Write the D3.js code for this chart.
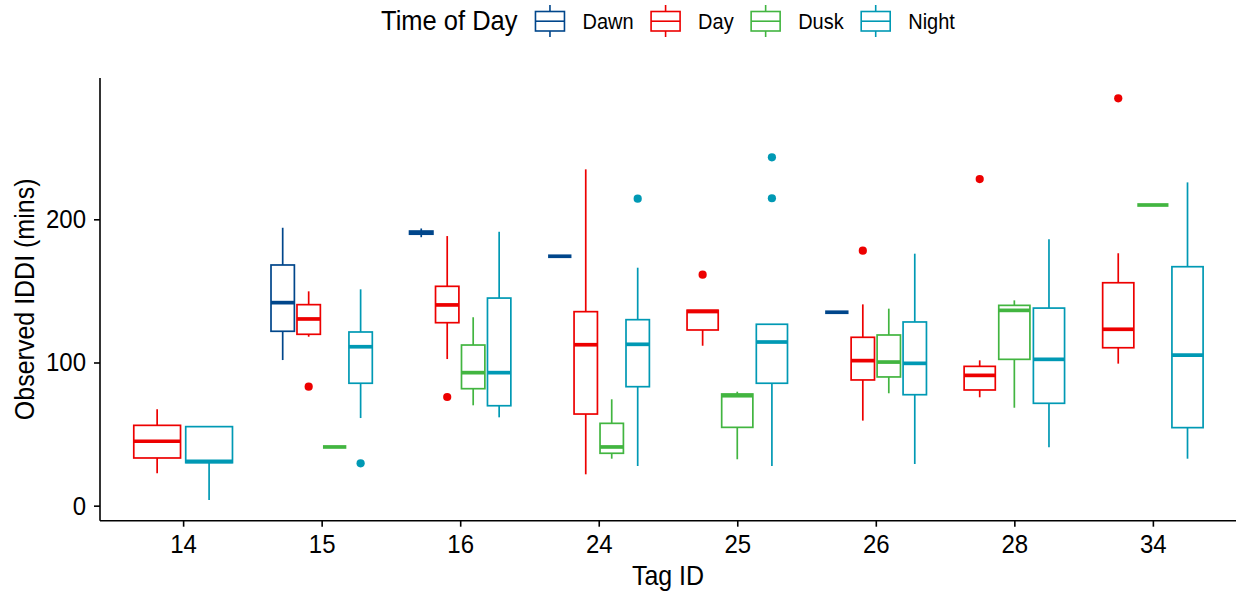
<!DOCTYPE html>
<meta charset="utf-8">
<style>
body { margin: 0; background: #fff; }
text { font-family: "Liberation Sans", Arial, sans-serif; fill: #000; }
</style>
<svg width="1238" height="594"></svg>
<script src="https://cdn.jsdelivr.net/npm/d3@7"></script>
<script>

// tag ids on the x axis and the four times of day
var tags = ["14", "15", "16", "24", "25", "26", "28", "34"];
var times = ["Dawn", "Day", "Dusk", "Night"];
var yTicks = [0, 100, 200];

// box stats: tag, time, lower whisker, q1, median, q3, upper whisker
var boxes = [
  ["14", "Day",   22.6, 33.3, 45.0, 56.1, 67.3],
  ["14", "Night",  4.0, 30.0, 31.0, 55.2, 55.2],
  ["15", "Dawn", 101.7, 121.8, 141.8, 168.1, 194.1],
  ["15", "Day",  118.0, 119.7, 130.4, 140.4, 149.7],
  ["15", "Dusk",  41.0, 41.0, 41.0, 41.0, 41.0],
  ["15", "Night", 61.2, 85.5, 111.0, 121.3, 151.1],
  ["16", "Dawn", 187.5, 189.6, 190.6, 191.8, 193.6],
  ["16", "Day",  102.4, 127.8, 140.2, 153.2, 188.3],
  ["16", "Dusk",  70.1, 81.7, 92.9, 112.2, 131.6],
  ["16", "Night", 61.7, 69.8, 92.9, 145.0, 191.3],
  ["24", "Dawn", 174.2, 174.2, 174.2, 174.2, 174.2],
  ["24", "Day",   21.9, 64.0, 112.4, 135.5, 234.9],
  ["24", "Dusk",  32.8, 36.6, 41.0, 57.5, 74.3],
  ["24", "Night", 27.7, 83.1, 112.7, 129.9, 166.2],
  ["25", "Day",  111.7, 122.7, 135.6, 136.5, 136.5],
  ["25", "Dusk",  32.4, 54.7, 76.8, 78.0, 79.6],
  ["25", "Night", 27.7, 85.5, 114.3, 126.7, 126.7],
  ["26", "Dawn", 135.1, 135.1, 135.1, 135.1, 135.1],
  ["26", "Day",   59.4, 87.8, 101.3, 117.6, 140.6],
  ["26", "Dusk",  78.5, 89.9, 100.3, 119.2, 137.6],
  ["26", "Night", 29.1, 77.5, 99.4, 128.3, 176.0],
  ["28", "Day",   75.7, 80.8, 91.0, 97.3, 101.5],
  ["28", "Dusk",  68.4, 102.2, 136.4, 139.9, 143.4],
  ["28", "Night", 40.8, 71.5, 102.2, 138.0, 186.0],
  ["34", "Day",   99.2, 110.3, 123.2, 155.7, 176.3],
  ["34", "Dusk", 210.0, 210.0, 210.0, 210.0, 210.0],
  ["34", "Night", 32.8, 54.5, 105.2, 166.9, 225.8]
];

// outlying points: tag, time, value
var outliers = [
  ["15", "Day", 83.1],
  ["15", "Night", 29.6],
  ["16", "Day", 75.9],
  ["24", "Night", 214.4],
  ["25", "Day", 161.3],
  ["25", "Night", 243.3],
  ["25", "Night", 214.7],
  ["26", "Day", 178.1],
  ["28", "Day", 228.1],
  ["34", "Day", 284.5]
];

var svg = d3.select("svg");

// the source fonts are drawn a little taller than Liberation Sans
var stretch = "scale(1,1.1)";

var color = d3.scaleOrdinal()
    .domain(times)
    .range(["#00468B", "#ED0000", "#42B540", "#0099B4"]);

var x = d3.scalePoint()
    .domain(tags)
    .range([100, 1236])
    .padding(0.6);

var y = d3.scaleLinear()
    .domain([-10.5, 298.7])
    .range([520.7, 78]);

var step = x.step();

// dodge like ggplot: 0.75 of a step split between the groups present, 10% padding
function dodge(tag, time) {
  var present = times.filter(function(t) {
    return boxes.some(function(b) { return b[0] == tag && b[1] == t; });
  });
  var slot = 0.75 * step / present.length;
  var i = present.indexOf(time);
  return { cx: x(tag) - 0.375 * step + slot * (i + 0.5), w: slot * 0.9 };
}

// axes
var yAxis = svg.append("g")
    .attr("transform", "translate(100,0)")
    .call(d3.axisLeft(y).tickValues(yTicks).tickSize(6).tickPadding(8));
var xAxis = svg.append("g")
    .attr("transform", "translate(0,520.7)")
    .call(d3.axisBottom(x).tickSize(6).tickPadding(6.3));

yAxis.select(".domain").attr("d", "M0," + y.range()[1] + "V" + y.range()[0]);
xAxis.select(".domain").attr("d", "M" + x.range()[0] + ",0H" + x.range()[1]);
svg.selectAll(".domain, .tick line").attr("stroke", "#000").attr("stroke-width", 1.6);
svg.selectAll(".tick text").attr("font-size", 24).attr("fill", "#000")
    .attr("font-family", "Liberation Sans, Arial, sans-serif")
    .attr("transform", stretch);

// boxes
var g = svg.append("g");
g.selectAll("g.box")
  .data(boxes)
  .enter().append("g")
    .attr("class", "box")
    .each(function(d) {
      var p = dodge(d[0], d[1]);
      var c = color(d[1]);
      var sel = d3.select(this);
      sel.append("line")
          .attr("x1", p.cx).attr("x2", p.cx)
          .attr("y1", y(d[6])).attr("y2", y(d[5]))
          .attr("stroke", c).attr("stroke-width", 1.7);
      sel.append("line")
          .attr("x1", p.cx).attr("x2", p.cx)
          .attr("y1", y(d[3])).attr("y2", y(d[2]))
          .attr("stroke", c).attr("stroke-width", 1.7);
      sel.append("rect")
          .attr("x", p.cx - p.w / 2)
          .attr("y", y(d[5]))
          .attr("width", p.w)
          .attr("height", y(d[3]) - y(d[5]))
          .attr("fill", "#fff")
          .attr("stroke", c).attr("stroke-width", 1.7);
      sel.append("line")
          .attr("x1", p.cx - p.w / 2).attr("x2", p.cx + p.w / 2)
          .attr("y1", y(d[4])).attr("y2", y(d[4]))
          .attr("stroke", c).attr("stroke-width", 3.7);
    });

g.selectAll("circle")
  .data(outliers)
  .enter().append("circle")
    .attr("cx", function(d) { return dodge(d[0], d[1]).cx; })
    .attr("cy", function(d) { return y(d[2]); })
    .attr("r", 4.1)
    .attr("fill", function(d) { return color(d[1]); });

// axis titles
svg.append("text")
    .attr("transform", "translate(" + (x.range()[0] + x.range()[1]) / 2 + ",585) " + stretch)
    .attr("text-anchor", "middle")
    .attr("font-size", 25)
    .text("Tag ID");

svg.append("text")
    .attr("transform", "translate(34," + (y.range()[0] + y.range()[1]) / 2 + ") rotate(-90) " + stretch)
    .attr("text-anchor", "middle")
    .attr("font-size", 25)
    .text("Observed IDDI (mins)");

// legend, laid out left to right like ggplot's top legend
var legend = svg.append("g");
var title = legend.append("text")
    .attr("transform", "translate(381,29.5) " + stretch)
    .attr("font-size", 25.5)
    .text("Time of Day");

var cursor = 381 + title.node().getComputedTextLength() + 18;
times.forEach(function(t) {
  var item = legend.append("g").attr("transform", "translate(" + cursor + ",0)");
  item.append("line")
      .attr("x1", 14.5).attr("x2", 14.5).attr("y1", 5).attr("y2", 37)
      .attr("stroke", color(t)).attr("stroke-width", 1.6);
  item.append("rect")
      .attr("x", 0).attr("y", 11.5).attr("width", 29).attr("height", 19.5)
      .attr("fill", "#fff")
      .attr("stroke", color(t)).attr("stroke-width", 1.6);
  item.append("line")
      .attr("x1", 0).attr("x2", 29).attr("y1", 21.2).attr("y2", 21.2)
      .attr("stroke", color(t)).attr("stroke-width", 1.6);
  var label = item.append("text")
      .attr("transform", "translate(47,28.5) " + stretch)
      .attr("font-size", 20)
      .text(t);
  cursor += 47 + label.node().getComputedTextLength() + 17.5;
});

</script>
